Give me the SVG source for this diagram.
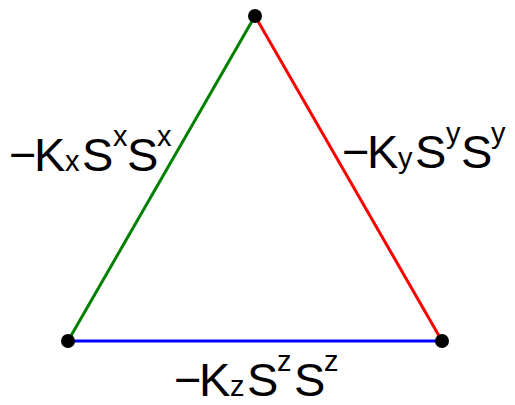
<svg xmlns="http://www.w3.org/2000/svg" width="515" height="405" viewBox="0 0 515 405">
<style>
.lbl{font-family:"Liberation Sans",Arial,sans-serif;font-size:47px;fill:#000}
.sm{font-size:29px}
.edge{stroke-width:3;fill:none}
.dot{fill:#000}
</style>
<rect width="515" height="405" fill="#fff"/>
<g id="connectors">
<line class="edge" x1="68" y1="341" x2="255" y2="16" stroke="#008000"/>
<line class="edge" x1="255" y1="16" x2="442" y2="341" stroke="#ff0000"/>
<line class="edge" x1="68" y1="341" x2="442" y2="341" stroke="#0000ff"/>
</g>
<g id="node-top"><circle class="dot" cx="255" cy="16" r="7"/></g>
<g id="node-left"><circle class="dot" cx="68" cy="341" r="7"/></g>
<g id="node-right"><circle class="dot" cx="442" cy="341" r="7"/></g>
<g id="label-x"><text class="lbl" y="171"><tspan x="9">−</tspan><tspan x="34">K</tspan><tspan class="sm" x="65">x</tspan><tspan x="82">S</tspan><tspan class="sm" x="113" y="146">x</tspan><tspan x="127" y="171">S</tspan><tspan class="sm" x="157" y="146">x</tspan></text></g>
<g id="label-y" transform="translate(333,-3)"><text class="lbl" y="171"><tspan x="9">−</tspan><tspan x="34">K</tspan><tspan class="sm" x="65">y</tspan><tspan x="82">S</tspan><tspan class="sm" x="113" y="146">y</tspan><tspan x="128" y="171">S</tspan><tspan class="sm" x="158" y="146">y</tspan></text></g>
<g id="label-z" transform="translate(165,225)"><text class="lbl" y="171"><tspan x="9">−</tspan><tspan x="34">K</tspan><tspan class="sm" x="65">z</tspan><tspan x="82">S</tspan><tspan class="sm" x="112" y="146">z</tspan><tspan x="129" y="171">S</tspan><tspan class="sm" x="159" y="146">z</tspan></text></g>
</svg>
